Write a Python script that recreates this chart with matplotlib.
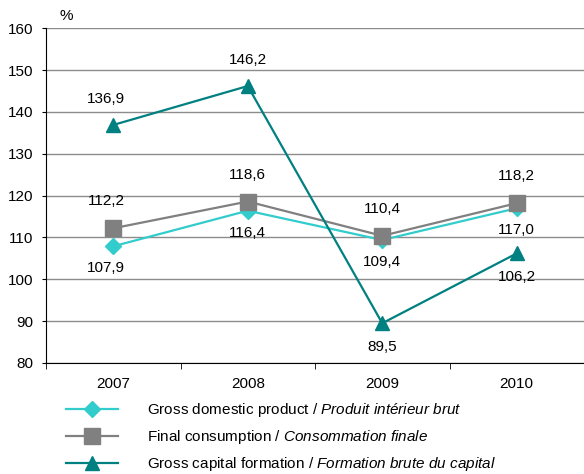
import matplotlib
matplotlib.use('Agg')
import matplotlib.pyplot as plt

plt.rcParams['font.family'] = ['Liberation Sans', 'DejaVu Sans']
plt.rcParams['mathtext.fontset'] = 'custom'
plt.rcParams['mathtext.rm'] = 'Liberation Sans'
plt.rcParams['mathtext.it'] = 'Liberation Sans:italic'

years = ['2007', '2008', '2009', '2010']
gdp = [107.9, 116.4, 109.4, 117.0]
consumption = [112.2, 118.6, 110.4, 118.2]
capital = [136.9, 146.2, 89.5, 106.2]

gdp_labels = ['107,9', '116,4', '109,4', '117,0']
cons_labels = ['112,2', '118,6', '110,4', '118,2']
cap_labels = ['136,9', '146,2', '89,5', '106,2']

names = [r'Gross domestic product / $\mathit{Produit\ intérieur\ brut}$',
         r'Final consumption / $\mathit{Consommation\ finale}$',
         r'Gross capital formation / $\mathit{Formation\ brute\ du\ capital}$']

W, H = 584, 474
fs = 11
fig = plt.figure(figsize=(W / 100, H / 100), dpi=100)
ax = fig.add_axes([46 / W, 1 - 363 / H, (W - 46) / W, (363 - 28.3) / H])

x = list(range(len(years)))
l1, = ax.plot(x, gdp, color='#33CCCC', lw=1.6, marker='D', ms=8, zorder=3)
l2, = ax.plot(x, consumption, color='#808080', lw=1.6, marker='s', ms=11, zorder=3)
l3, = ax.plot(x, capital, color='#008080', lw=1.6, marker='^', ms=10, zorder=4)

ax.set_xlim(-0.5, -0.5 + (W - 46) / 135.3)
ax.set_ylim(80, 160)
ax.set_yticks(range(80, 161, 10))
ax.set_xticks(x)
ax.set_xticklabels(years)
ax.set_xticks([-0.5, 0.5, 1.5, 2.5, 3.5], minor=True)
ax.tick_params(axis='x', which='major', length=0, pad=10, labelsize=fs)
ax.tick_params(axis='x', which='minor', length=4, direction='out', color='black')
ax.tick_params(axis='y', length=3, pad=6, labelsize=fs)
ax.yaxis.grid(True, color='#8c8c8c', lw=1)
ax.set_axisbelow(True)
for s in ['top', 'right']:
    ax.spines[s].set_visible(False)
ax.spines['left'].set_color('black')
ax.spines['bottom'].set_color('black')

px = 72 / 100
def label(xi, yi, txt, dy, dx=0):
    ax.annotate(txt, (xi, yi), xytext=(dx * px, dy * px), textcoords='offset points',
                ha='center', va='center', fontsize=fs, zorder=5)

for i in x:
    dx = -7 if i == 0 else 0
    label(i, capital[i], cap_labels[i], 26 if i < 2 else -24, dx)
    label(i, consumption[i], cons_labels[i], 27, dx)
    label(i, gdp[i], gdp_labels[i], -22, dx)

fig.text(66 / W, 1 - 16 / H, '%', fontsize=fs, ha='center', va='center')

fig.legend([l1, l2, l3], names, loc='upper left', bbox_to_anchor=(66 / W, 1 - 401 / H),
           frameon=False, fontsize=fs, handlelength=3.4, handletextpad=1.9,
           labelspacing=0.6, borderpad=0, borderaxespad=0)

fig.savefig('out.png', dpi=100)
